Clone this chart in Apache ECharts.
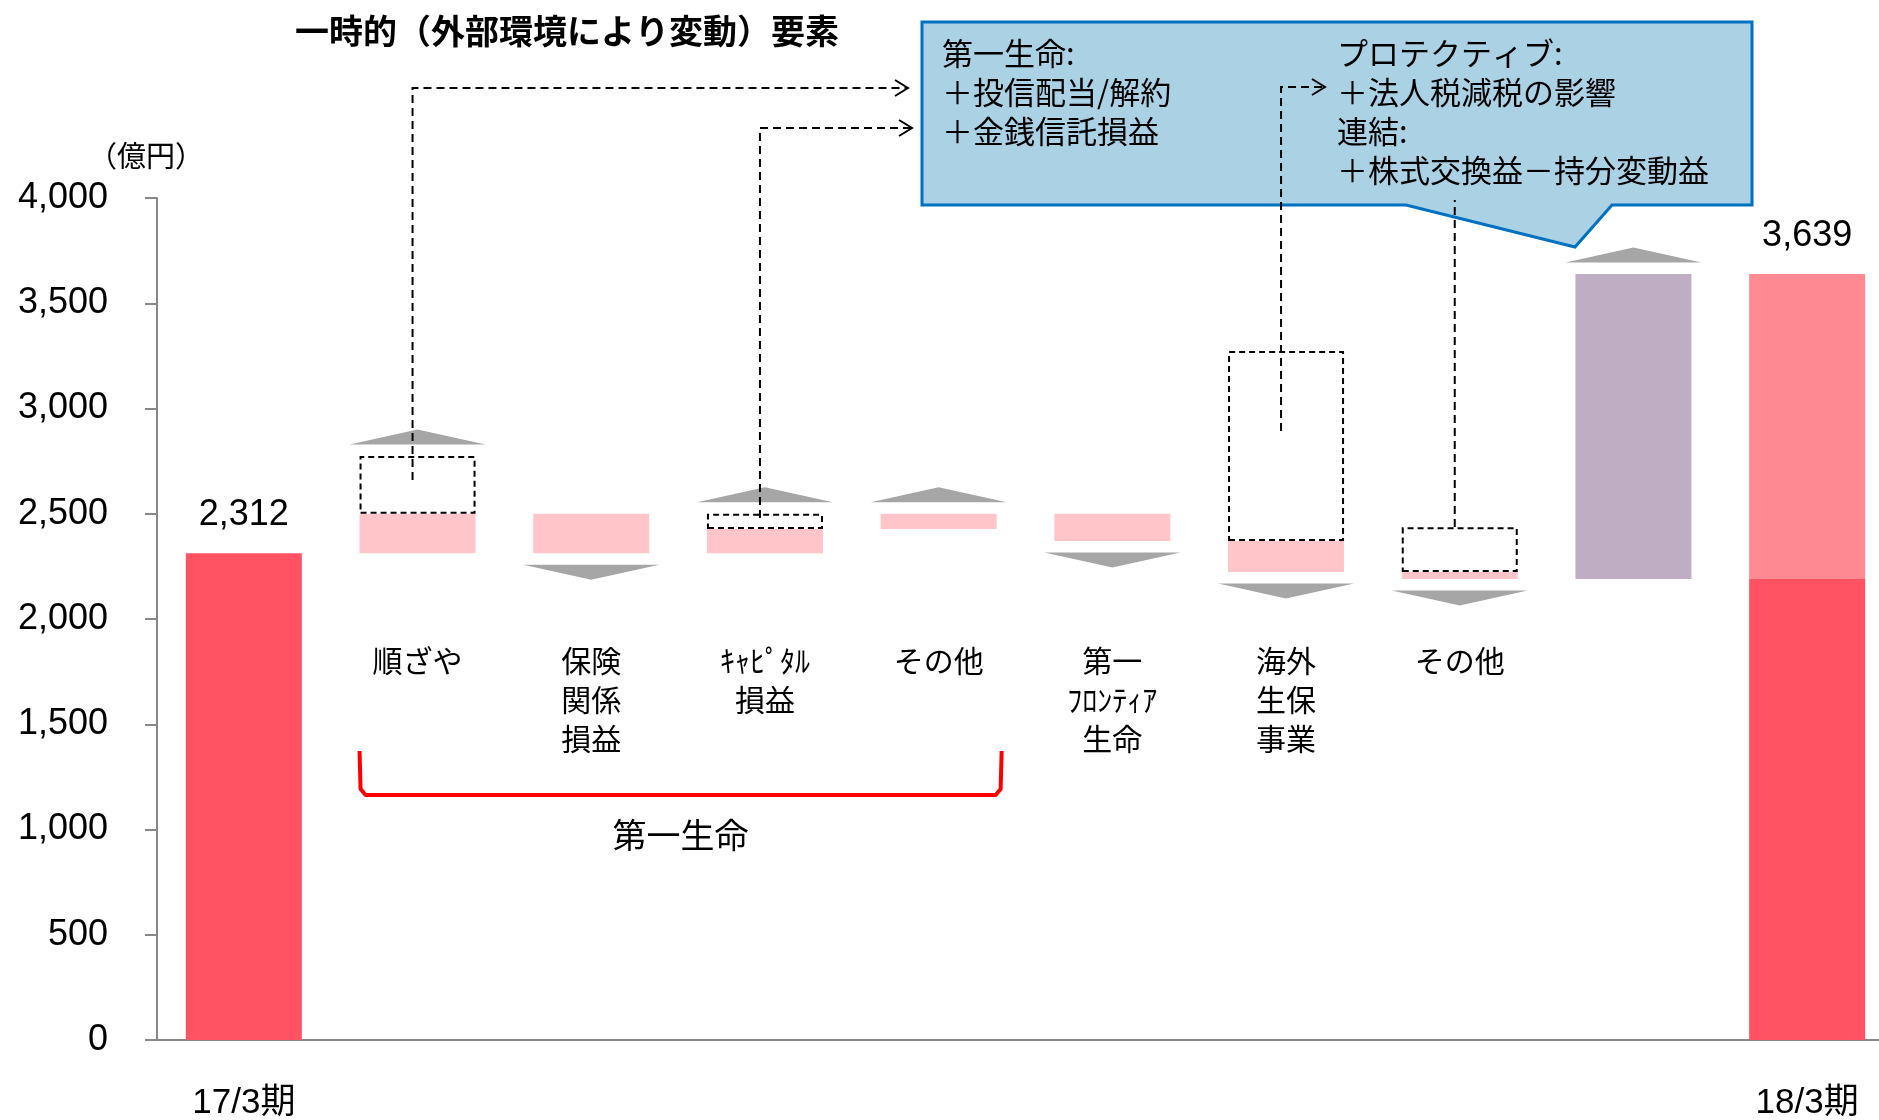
<!DOCTYPE html>
<html><head><meta charset="utf-8">
<script src="https://cdn.jsdelivr.net/npm/echarts@6/dist/echarts.min.js"></script>
<style>html,body{margin:0;padding:0;background:#fff}#c{width:1879px;height:1120px}</style>
</head><body><div id="c"></div>
<script>
// ---- data ----
const categories = ['17/3期','順ざや','保険関係損益','キャピタル損益','その他','第一フロンティア生命','海外生保事業','その他','一時的要素','18/3期'];
const categoryLabels = ['', '順ざや', '保険\n関係\n損益', 'ｷｬﾋﾟﾀﾙ\n損益', 'その他', '第一\nﾌﾛﾝﾃｨｱ\n生命', '海外\n生保\n事業', 'その他', '', ''];
const startValue = 2312;
const endValue = 3639;
const coreChanges = [188, -188, 116, 72, -130, -147, -33];
const temporaryChanges = [274, 0, 72, 0, 0, 903, 213];
const yTicks = [0, 500, 1000, 1500, 2000, 2500, 3000, 3500, 4000];
const titleText = '一時的（外部環境により変動）要素';
const unitText = '（億円）';
const groupText = '第一生命';
const calloutLeft = '第一生命:\n＋投信配当/解約\n＋金銭信託損益';
const calloutRight = 'プロテクティブ:\n＋法人税減税の影響\n連結:\n＋株式交換益－持分変動益';
// leader lines: category, anchor value inside dashed box
const leaderCats = [1, 3, 6, 7];
const leaderAnchors = [2660, 2480, 2893, 2437];

// ---- build ----
const FONT = '"Liberation Sans","Noto Sans CJK JP",sans-serif';
const JFONT = '"Noto Sans CJK JP","Liberation Sans",sans-serif';
const N = categories.length;
const levels = [startValue];
coreChanges.forEach(d => levels.push(levels[levels.length - 1] + d));
const coreEnd = levels[levels.length - 1];
const E = '-';
const base = [], dark = [], pink = [], purple = [], light = [], dashed = [];
for (let i = 0; i < N; i++) { base.push(E); dark.push(E); pink.push(E); purple.push(E); light.push(E); dashed.push(E); }
const fmt = v => Number(v).toLocaleString('en-US');
dark[0] = {value: startValue, label: {show: true, position: 'top', distance: 20, formatter: () => fmt(startValue)}};
coreChanges.forEach((d, j) => {
  const i = j + 1;
  base[i] = Math.min(levels[j], levels[j + 1]);
  pink[i] = Math.abs(d);
  if (temporaryChanges[j] > 0) dashed[i] = temporaryChanges[j];
});
base[8] = coreEnd; purple[8] = endValue - coreEnd;
dark[9] = coreEnd;
light[9] = {value: endValue - coreEnd, label: {show: true, position: 'top', distance: 20, formatter: () => fmt(endValue)}};
const upArrows = [], downArrows = [];
coreChanges.forEach((d, j) => {
  const i = j + 1;
  const top = Math.max(levels[j], levels[j + 1]) + (temporaryChanges[j] || 0);
  const bottom = Math.min(levels[j], levels[j + 1]);
  if (d > 0) upArrows.push([i, top]); else downArrows.push([i, bottom]);
});
upArrows.push([8, endValue]);

const BW = 116;
const barCommon = {type: 'bar', stack: 'w', barWidth: BW, silent: true, animation: false};
const chart = echarts.init(document.getElementById('c'));
chart.setOption({
  animation: false,
  grid: {left: 157, top: 198, width: 1737, height: 842, containLabel: false, outerBoundsMode: 'none'},
  xAxis: {
    type: 'category', data: categories,
    axisLine: {show: true, lineStyle: {color: '#888', width: 2}},
    axisTick: {show: false},
    axisLabel: {interval: 0, margin: 46, fontSize: 35, color: '#000', fontFamily: FONT,
      formatter: (v, i) => (i === 0 || i === N - 1) ? v : ''}
  },
  yAxis: {
    type: 'value', min: yTicks[0], max: yTicks[yTicks.length - 1], interval: yTicks[1] - yTicks[0],
    axisLine: {show: true, lineStyle: {color: '#888', width: 2}},
    axisTick: {show: true, length: 12, lineStyle: {color: '#888', width: 2}},
    splitLine: {show: false},
    axisLabel: {margin: 49, fontSize: 36, color: '#000', fontFamily: FONT, formatter: v => fmt(v)}
  },
  series: [
    Object.assign({}, barCommon, {name: 'base', data: base, itemStyle: {color: 'rgba(0,0,0,0)'}}),
    Object.assign({}, barCommon, {name: 'dark', data: dark, itemStyle: {color: '#FF5364'},
      label: {color: '#000', fontSize: 36, fontFamily: FONT}}),
    Object.assign({}, barCommon, {name: 'pink', data: pink, itemStyle: {color: '#FFC5C9'}}),
    Object.assign({}, barCommon, {name: 'purple', data: purple, itemStyle: {color: '#BFADC4'}}),
    Object.assign({}, barCommon, {name: 'light', data: light, itemStyle: {color: '#FF8A92'},
      label: {color: '#000', fontSize: 36, fontFamily: FONT}}),
    Object.assign({}, barCommon, {name: 'temp', data: dashed,
      itemStyle: {color: 'rgba(0,0,0,0)', borderColor: '#000', borderWidth: 2, borderType: [6, 4]}}),
    {type: 'scatter', data: upArrows, silent: true, symbol: 'path://M0,15L68,0L136,15Z',
      symbolSize: [136, 15], symbolKeepAspect: false, symbolOffset: [0, -19], itemStyle: {color: '#A6A6A6', opacity: 1}, z: 5},
    {type: 'scatter', data: downArrows, silent: true, symbol: 'path://M0,0L136,0L68,15Z',
      symbolSize: [136, 15], symbolKeepAspect: false, symbolOffset: [0, 19], itemStyle: {color: '#A6A6A6', opacity: 1}, z: 5}
  ]
});

// ---- annotations ----
const px = (i, v) => chart.convertToPixel({gridIndex: 0}, [i, v]);
const g = [];
// title & unit
g.push({type: 'text', x: 567, y: 31, z: 100, style: {text: titleText, font: 'bold 34px ' + JFONT, fill: '#000', align: 'center', verticalAlign: 'middle'}});
g.push({type: 'text', x: 146, y: 156, z: 100, style: {text: unitText, font: '29px ' + JFONT, fill: '#000', align: 'center', verticalAlign: 'middle'}});
// category labels in plot
categoryLabels.forEach((t, i) => {
  if (!t) return;
  const p = px(i, 0);
  g.push({type: 'text', x: p[0], y: 641, z: 100, style: {text: t, font: '30px ' + JFONT, lineHeight: 39, fill: '#000', align: 'center', verticalAlign: 'top'}});
});
// bracket
const xL = px(1, 0)[0] - BW / 2, xR = px(4, 0)[0] + BW / 2 + 5;
g.push({type: 'polyline', z: 100, shape: {points: [[xL, 751], [xL + 1, 789], [xL + 6, 795], [xR - 6, 795], [xR - 1, 789], [xR, 751]]},
  style: {stroke: '#FF0000', lineWidth: 4, fill: null, lineJoin: 'round'}});
g.push({type: 'text', x: (xL + xR) / 2, y: 835, z: 100, style: {text: groupText, font: '34px ' + JFONT, fill: '#000', align: 'center', verticalAlign: 'middle'}});
// callout
g.push({type: 'polygon', z: 90, shape: {points: [[922, 22], [1752, 22], [1752, 205], [1612, 205], [1575, 247], [1406, 205], [922, 205]]},
  style: {fill: '#ABD1E4', stroke: '#0070C0', lineWidth: 3}});
g.push({type: 'text', x: 942, y: 34, z: 100, style: {text: calloutLeft, font: '31px ' + JFONT, lineHeight: 39, fill: '#000', align: 'left', verticalAlign: 'top'}});
g.push({type: 'text', x: 1337, y: 34, z: 100, style: {text: calloutRight, font: '31px ' + JFONT, lineHeight: 39, fill: '#000', align: 'left', verticalAlign: 'top'}});
// leader lines
const leaderTops = [88, 128, 87, 200];
const leaderEnds = [908, 912, 1325, null];
leaderCats.forEach((c, k) => {
  const p = px(c, leaderAnchors[k]);
  const x = p[0] - 5;
  const pts = [[x, p[1]], [x, leaderTops[k]]];
  const endX = leaderEnds[k];
  if (endX) pts.push([endX, leaderTops[k]]);
  g.push({type: 'polyline', z: 110, shape: {points: pts}, style: {stroke: '#000', lineWidth: 2, lineDash: [8, 5], fill: null}});
  if (endX) g.push({type: 'polyline', z: 110, shape: {points: [[endX - 13, leaderTops[k] - 8], [endX, leaderTops[k]], [endX - 13, leaderTops[k] + 8]]},
    style: {stroke: '#000', lineWidth: 2, fill: null}});
});
chart.setOption({graphic: g});
</script>
</body></html>
